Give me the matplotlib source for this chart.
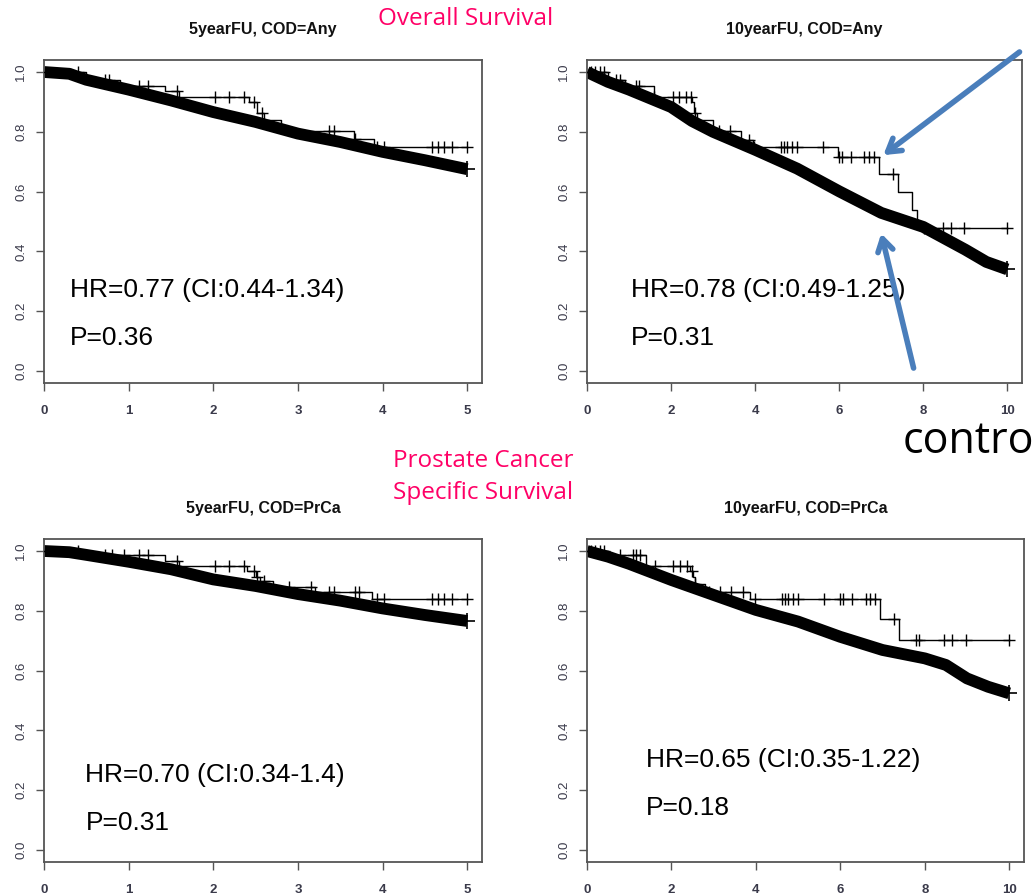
"""Kaplan-Meier panels: overall and prostate-cancer-specific survival, 5 and 10 year follow-up."""

import numpy as np
import matplotlib
matplotlib.use("Agg")
import matplotlib.pyplot as plt

plt.rcParams["font.family"] = ["Liberation Sans", "DejaVu Sans"]

# ── data (time in years, survival fraction) ──
# control cohort (thick band, many censor marks)
tl_ctrl_t = [0, 0.3, 0.5, 1.0, 1.5, 2.0, 2.5, 3.0, 3.5, 4.0, 4.5, 5.0]
tl_ctrl_s = [1.0, 0.994, 0.974, 0.941, 0.905, 0.866, 0.833, 0.794, 0.766, 0.733, 0.705, 0.675]
tr_ctrl_t = [0, 0.5, 1, 2, 2.5, 3, 4, 5, 6, 7, 8, 9, 9.5, 10]
tr_ctrl_s = [1.0, 0.967, 0.941, 0.883, 0.836, 0.80, 0.74, 0.677, 0.601, 0.529, 0.482, 0.406, 0.365, 0.34]
bl_ctrl_t = [0, 0.3, 0.5, 1, 1.5, 2, 2.5, 3, 3.5, 4, 4.5, 5]
bl_ctrl_s = [1.0, 0.996, 0.987, 0.964, 0.939, 0.905, 0.883, 0.856, 0.834, 0.808, 0.786, 0.766]
br_ctrl_t = [0, 0.5, 1, 2, 3, 4, 5, 6, 7, 8, 8.5, 9, 9.5, 10]
br_ctrl_s = [1.0, 0.981, 0.957, 0.903, 0.853, 0.803, 0.764, 0.713, 0.669, 0.641, 0.619, 0.574, 0.546, 0.524]

# treated cohort (step curve) and its censoring times
tl_trt_t = [0, 0.5, 0.9, 1.43, 1.6, 2.42, 2.52, 2.6, 2.8, 3.66, 3.9, 5.0]
tl_trt_s = [1.0, 0.972, 0.952, 0.937, 0.917, 0.90, 0.862, 0.84, 0.803, 0.775, 0.75, 0.75]
tl_cens = [0.4, 0.72, 0.77, 1.12, 1.23, 1.57, 2.02, 2.19, 2.36, 2.48, 2.58, 3.37, 3.43,
           3.68, 3.94, 4.02, 4.58, 4.66, 4.73, 4.82, 5.0]

tr_trt_t = [0, 0.5, 0.9, 1.6, 2.5, 2.55, 2.62, 3.0, 3.67, 3.94, 5.96, 6.94, 7.39, 7.74, 7.85, 10.0]
tr_trt_s = [1.0, 0.972, 0.952, 0.917, 0.90, 0.862, 0.84, 0.803, 0.774, 0.75, 0.716, 0.658,
            0.599, 0.538, 0.477, 0.477]
tr_cens = [0.1, 0.2, 0.3, 0.4, 0.7, 0.78, 1.17, 1.25, 1.6, 2.04, 2.2, 2.36, 2.48, 2.56, 3.15,
           3.4, 3.86, 3.98, 4.62, 4.69, 4.77, 4.88, 4.99, 5.62, 5.99, 6.07, 6.28, 6.6, 6.7,
           6.83, 7.27, 8.02, 8.46, 8.65, 8.97, 10.0]

bl_trt_t = [0, 0.5, 1.43, 1.6, 2.4, 2.5, 2.55, 2.7, 3.2, 3.88, 5.0]
bl_trt_s = [1.0, 0.987, 0.968, 0.95, 0.934, 0.914, 0.90, 0.88, 0.864, 0.838, 0.838]
bl_cens = [0.4, 0.72, 0.8, 0.95, 1.12, 1.23, 1.57, 2.02, 2.19, 2.36, 2.48, 2.52, 2.6, 2.9,
           3.15, 3.37, 3.43, 3.68, 3.72, 3.94, 4.02, 4.58, 4.66, 4.73, 4.82, 5.0]

br_trt_t = [0, 0.5, 1.41, 2.44, 2.5, 2.56, 2.8, 3.86, 6.94, 7.39, 10.0]
br_trt_s = [1.0, 0.987, 0.95, 0.934, 0.914, 0.89, 0.864, 0.84, 0.771, 0.702, 0.702]
br_cens = [0.1, 0.2, 0.3, 0.4, 0.78, 1.1, 1.17, 1.25, 1.6, 2.04, 2.2, 2.36, 2.48, 2.56, 2.9,
           3.15, 3.4, 3.7, 3.98, 4.62, 4.69, 4.77, 4.88, 4.99, 5.62, 5.99, 6.07, 6.28, 6.6,
           6.7, 6.83, 7.27, 7.8, 7.87, 8.46, 8.65, 8.97, 10.0]

titles = ["5yearFU, COD=Any", "10yearFU, COD=Any", "5yearFU, COD=PrCa", "10yearFU, COD=PrCa"]
hr_labels = ["HR=0.77 (CI:0.44-1.34)", "HR=0.78 (CI:0.49-1.25)",
             "HR=0.70 (CI:0.34-1.4)", "HR=0.65 (CI:0.35-1.22)"]
p_labels = ["P=0.36", "P=0.31", "P=0.31", "P=0.18"]
follow_up = [5, 10, 5, 10]

panels = [
    (tl_ctrl_t, tl_ctrl_s, tl_trt_t, tl_trt_s, tl_cens),
    (tr_ctrl_t, tr_ctrl_s, tr_trt_t, tr_trt_s, tr_cens),
    (bl_ctrl_t, bl_ctrl_s, bl_trt_t, bl_trt_s, bl_cens),
    (br_ctrl_t, br_ctrl_s, br_trt_t, br_trt_s, br_cens),
]

# axes rectangles in figure fractions (left, bottom, width, height)
rects = [
    (0.0426, 0.5725, 0.4240, 0.3605),
    (0.5682, 0.5725, 0.4212, 0.3605),
    (0.0426, 0.0379, 0.4240, 0.3605),
    (0.5682, 0.0379, 0.4231, 0.3605),
]
# text anchor (x in years, y) for HR / P labels
hr_pos = [(0.31, 0.27), (1.05, 0.27), (0.49, 0.25), (1.40, 0.30)]
p_pos = [(0.31, 0.11), (1.05, 0.11), (0.49, 0.09), (1.40, 0.14)]

fig = plt.figure(figsize=(10.33, 8.96), dpi=100)
axes = []
for i, (ct, cs, tt, ts, cens) in enumerate(panels):
    ax = fig.add_axes(rects[i])
    axes.append(ax)
    fu = follow_up[i]

    # control: thick black band
    ax.plot(ct, cs, color="black", lw=8.5, solid_capstyle="butt", solid_joinstyle="round",
            zorder=2)
    ax.plot(ct[-1], cs[-1], marker="+", ms=11, mew=1.2, color="black", zorder=3)

    # treated: step curve + censor marks
    ax.step(tt, ts, where="post", color="black", lw=1.0, zorder=3)
    idx = np.searchsorted(tt, cens, side="right") - 1
    ax.plot(cens, np.array(ts)[np.clip(idx, 0, len(ts) - 1)], ls="none", marker="+",
            ms=9, mew=1.0, color="black", zorder=3)

    ax.set_xlim(0, fu * 1.035)
    ax.set_ylim(-0.04, 1.04)
    ax.set_xticks(range(0, fu + 1, 1 if fu == 5 else 2))
    ax.set_yticks([0.0, 0.2, 0.4, 0.6, 0.8, 1.0])
    ax.set_yticklabels(["0.0", "0.2", "0.4", "0.6", "0.8", "1.0"], rotation=90, va="center")
    ax.tick_params(direction="out", length=6, width=1.0, colors="#555555",
                   labelsize=9.5, labelcolor="#3a3a4a")
    ax.tick_params(axis="x", pad=10)
    ax.tick_params(axis="y", pad=6)
    for lab in ax.get_xticklabels():
        lab.set_fontweight("bold")
    for sp in ax.spines.values():
        sp.set_color("#555555")
        sp.set_linewidth(1.3)

    ax.set_title(titles[i], fontsize=11.5, fontweight="bold", pad=19, color="#111111")
    ax.text(hr_pos[i][0], hr_pos[i][1], hr_labels[i], fontsize=19, va="center", ha="left")
    ax.text(p_pos[i][0], p_pos[i][1], p_labels[i], fontsize=19, va="center", ha="left")

# blue arrows on the 10-year overall panel
ax_tr = axes[1]
arrow_kw = dict(arrowstyle="->,head_length=0.9,head_width=0.55", color="#4A7EBB", lw=4,
                shrinkA=0, shrinkB=0)
ax_tr.annotate("", xy=(7.05, 0.722), xytext=(10.29, 1.067), xycoords="data",
               arrowprops=arrow_kw, annotation_clip=False)
ax_tr.annotate("", xy=(7.0, 0.46), xytext=(7.77, 0.01), xycoords="data",
               arrowprops=arrow_kw, annotation_clip=False)

# slide labels
pink = "#FF0066"
fig.text(466 / 1033, 1 - 19 / 896, "Overall Survival", color=pink, fontsize=17.5,
         family=["Open Sans", "DejaVu Sans"], ha="center", va="center")
fig.text(483 / 1033, 1 - 477 / 896, "Prostate Cancer\nSpecific Survival", color=pink,
         fontsize=17.5, family=["Open Sans", "DejaVu Sans"], ha="center", va="center",
         linespacing=1.45)
fig.text(903 / 1033, 1 - 453 / 896, "contro", color="black", fontsize=31,
         family=["Open Sans", "DejaVu Sans"], ha="left", va="baseline")

fig.savefig("out.png", dpi=100)
plt.close("all")
